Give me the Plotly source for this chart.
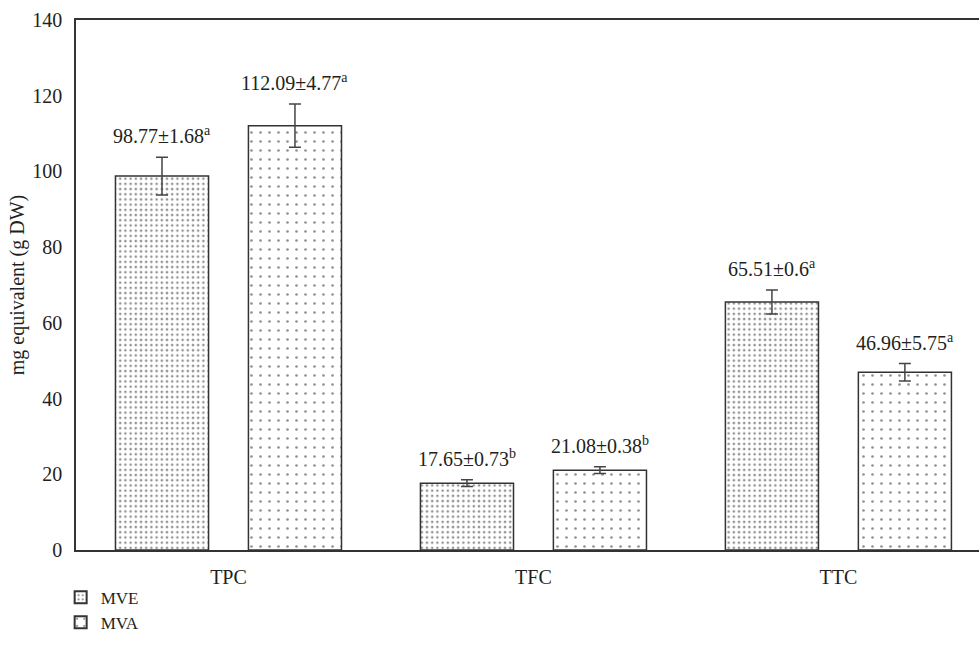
import plotly.graph_objects as go

# Categories and measured contents (mg equivalent per g DW)
categories = ["TPC", "TFC", "TTC"]
mve_values = [98.77, 17.65, 65.51]
mva_values = [112.09, 21.08, 46.96]

# Reported standard deviations and significance letters
mve_sd = [1.68, 0.73, 0.6]
mva_sd = [4.77, 0.38, 5.75]
mve_letters = ["a", "b", "a"]
mva_letters = ["a", "b", "a"]

# Half-lengths of the error whiskers as plotted
mve_err = [5.0, 0.9, 3.2]
mva_err = [5.7, 0.9, 2.3]

y_ticks = [0, 20, 40, 60, 80, 100, 120, 140]

FONT = "Liberation Serif"
INK = "#231f20"

fig = go.Figure()

fig.add_trace(go.Bar(
    name="MVE",
    x=categories,
    y=mve_values,
    error_y=dict(type="data", array=mve_err, visible=True,
                 color="#444", thickness=1.5, width=6),
    marker=dict(
        color="white",
        line=dict(color="#333", width=1.5),
        pattern=dict(shape=".", fgcolor="#222", bgcolor="white",
                     size=5.2, solidity=0.2),
    ),
))

fig.add_trace(go.Bar(
    name="MVA",
    x=categories,
    y=mva_values,
    error_y=dict(type="data", array=mva_err, visible=True,
                 color="#444", thickness=1.5, width=6),
    marker=dict(
        color="white",
        line=dict(color="#333", width=1.5),
        pattern=dict(shape=".", fgcolor="#222", bgcolor="white",
                     size=9, solidity=0.07),
    ),
))

# Value labels above each whisker
offset = 0.218
annotations = []
for i, cat in enumerate(categories):
    for sign, vals, sds, errs, letters in (
        (-1, mve_values, mve_sd, mve_err, mve_letters),
        (1, mva_values, mva_sd, mva_err, mva_letters),
    ):
        annotations.append(dict(
            x=i + sign * offset,
            y=vals[i] + errs[i],
            xref="x", yref="y",
            text=f"{vals[i]}±{sds[i]}<sup>{letters[i]}</sup>",
            showarrow=False,
            yanchor="bottom",
            yshift=8,
            font=dict(family=FONT, size=20, color=INK),
        ))

fig.update_layout(
    width=979,
    height=654,
    margin=dict(l=76, r=0, t=20, b=104, autoexpand=False),
    paper_bgcolor="white",
    plot_bgcolor="white",
    barmode="group",
    bargap=0.128,
    bargroupgap=0.30,
    font=dict(family=FONT, size=20, color=INK),
    showlegend=True,
    legend=dict(
        x=-0.017, y=-0.056, xanchor="left", yanchor="top",
        orientation="v",
        font=dict(family=FONT, size=17, color=INK),
        tracegroupgap=0,
        itemsizing="constant",
    ),
    annotations=annotations,
)

fig.update_xaxes(
    type="category",
    range=[-0.5, 2.461],
    showline=True, linecolor="#333", linewidth=1.5, mirror=True,
    showgrid=False, ticks="", ticklabelstandoff=8,
    tickfont=dict(family=FONT, size=20, color=INK),
)

fig.update_yaxes(
    range=[0, 140],
    tickvals=y_ticks,
    showline=True, linecolor="#333", linewidth=1.5,
    showgrid=False, zeroline=False, ticks="", ticklabelstandoff=8,
    tickfont=dict(family=FONT, size=20, color=INK),
    title=dict(text="mg equivalent (g DW)", standoff=2,
               font=dict(family=FONT, size=20, color=INK)),
)

fig.write_html("out.html")
